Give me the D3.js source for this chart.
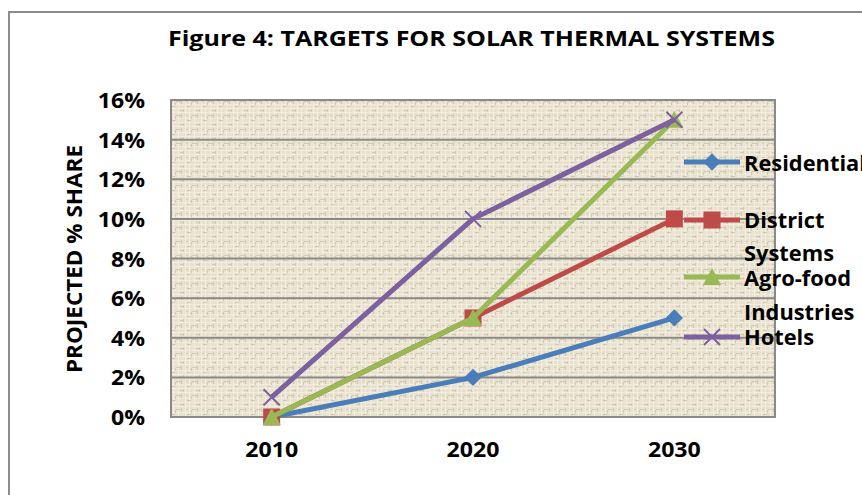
<!DOCTYPE html>
<html><head><meta charset="utf-8">
<script src="https://cdn.jsdelivr.net/npm/d3@7"></script>
<style>
html,body{margin:0;padding:0;background:#fff;}
svg text{font-family:"Open Sans",sans-serif;font-weight:bold;fill:#000;}
</style>
</head><body>
<svg id="chart" width="862" height="495"></svg>
<script>
const years = ["2010", "2020", "2030"];
const residential = [0.00, 0.02, 0.05];
const districtSystems = [0.00, 0.05, 0.10];
const agroFood = [0.00, 0.05, 0.15];
const hotels = [0.01, 0.10, 0.15];
const yTicks = [0, 0.02, 0.04, 0.06, 0.08, 0.10, 0.12, 0.14, 0.16];
const seriesNames = ["Residential", "District Systems", "Agro-food Industries", "Hotels"];
const title = "Figure 4: TARGETS FOR SOLAR THERMAL SYSTEMS";
const yTitle = "PROJECTED % SHARE";

const series = [
  {name: seriesNames[0], values: residential, color: "#4a7ebb", marker: "diamond", legendLines: ["Residential"]},
  {name: seriesNames[1], values: districtSystems, color: "#be4b48", marker: "square", legendLines: ["District", "Systems"]},
  {name: seriesNames[2], values: agroFood, color: "#98b954", marker: "triangle", legendLines: ["Agro-food", "Industries"]},
  {name: seriesNames[3], values: hotels, color: "#7d60a0", marker: "x", legendLines: ["Hotels"]}
];

const svg = d3.select("#chart");
const plot = {left: 171, right: 775, top: 100, bottom: 417};

const x = d3.scaleBand().domain(years).range([plot.left, plot.right]).padding(0);
const y = d3.scaleLinear().domain([0, 0.16]).range([plot.bottom, plot.top]);

function stretch(sel, factor) {
  sel.each(function() {
    const w = this.getComputedTextLength();
    d3.select(this).attr("textLength", w * factor).attr("lengthAdjust", "spacingAndGlyphs");
  });
}

// outer frame
svg.append("path").attr("d", "M9,500 L9,12 L870,12")
  .attr("fill", "none").attr("stroke", "#8c8c8c").attr("stroke-width", 2);

// texture pattern
const defs = svg.append("defs");
const pat = defs.append("pattern").attr("id", "tex").attr("patternUnits", "userSpaceOnUse")
  .attr("width", 16).attr("height", 14);
pat.append("rect").attr("width", 16).attr("height", 14).attr("fill", "#e8e1cd");
const light = [[0,0,16,1],[2,0,1,14],[9,0,1,14],[0,6,16,1],[13,0,1,14],[0,10,16,1]];
light.forEach(r => pat.append("rect").attr("x", r[0]).attr("y", r[1]).attr("width", r[2]).attr("height", r[3]).attr("fill", "#f2ede0"));
const dark = [[5,2,1,4],[0,3,6,1],[11,8,4,1],[7,11,1,3],[4,12,3,1],[15,4,1,3],[10,3,2,1]];
dark.forEach(r => pat.append("rect").attr("x", r[0]).attr("y", r[1]).attr("width", r[2]).attr("height", r[3]).attr("fill", "#d2c9b2"));

svg.append("rect").attr("x", plot.left).attr("y", plot.top)
  .attr("width", plot.right - plot.left).attr("height", plot.bottom - plot.top)
  .attr("fill", "url(#tex)");

// grid lines
svg.append("g").selectAll("line").data(yTicks).join("line")
  .attr("x1", plot.left).attr("x2", plot.right)
  .attr("y1", d => y(d)).attr("y2", d => y(d))
  .attr("stroke", "#8a8a8a").attr("stroke-width", 2);

svg.append("rect").attr("x", plot.left).attr("y", plot.top)
  .attr("width", plot.right - plot.left).attr("height", plot.bottom - plot.top)
  .attr("fill", "none").attr("stroke", "#8a8a8a").attr("stroke-width", 2);

// y axis
const yAxis = svg.append("g").attr("transform", `translate(${plot.left},0)`)
  .call(d3.axisLeft(y).tickValues(yTicks).tickFormat(d3.format(".0%")).tickSize(0).tickPadding(26));
yAxis.select(".domain").remove();
yAxis.selectAll("text").attr("font-size", 21).attr("dy", "0.36em")
  .style("font-family", "'Open Sans',sans-serif").style("font-weight", "bold").attr("fill", "#000");
stretch(yAxis.selectAll("text"), 1.1);

// x axis
const xAxis = svg.append("g").attr("transform", `translate(0,${plot.bottom})`)
  .call(d3.axisBottom(x).tickSize(0).tickPadding(25));
xAxis.select(".domain").remove();
xAxis.selectAll("text").attr("font-size", 21).attr("dy", "0.71em")
  .style("font-family", "'Open Sans',sans-serif").style("font-weight", "bold").attr("fill", "#000");
stretch(xAxis.selectAll("text"), 1.1);

// title
const t = svg.append("text").attr("x", 168).attr("y", 46).attr("font-size", 22).text(title);
t.attr("textLength", 607).attr("lengthAdjust", "spacingAndGlyphs");

// y title
const yt = svg.append("text").attr("transform", "translate(82,259) rotate(-90)")
  .attr("text-anchor", "middle").attr("font-size", 21).text(yTitle);
yt.attr("textLength", 228).attr("lengthAdjust", "spacingAndGlyphs");

// markers
function drawMarker(g, type, color, cx, cy) {
  if (type === "diamond") {
    g.append("path").attr("d", d3.symbol(d3.symbolSquare, 150)())
      .attr("transform", `translate(${cx},${cy}) rotate(45)`).attr("fill", color);
  } else if (type === "square") {
    g.append("rect").attr("x", cx - 8.5).attr("y", cy - 8.5).attr("width", 17).attr("height", 17).attr("fill", color);
  } else if (type === "triangle") {
    g.append("path").attr("d", `M${cx},${cy - 9} L${cx + 9},${cy + 8} L${cx - 9},${cy + 8} Z`).attr("fill", color);
  } else if (type === "x") {
    g.append("path").attr("d", `M${cx - 8},${cy - 8} L${cx + 8},${cy + 8} M${cx - 8},${cy + 8} L${cx + 8},${cy - 8}`)
      .attr("stroke", color).attr("stroke-width", 2).attr("fill", "none");
  }
}

const line = d3.line().x((d, i) => x(years[i]) + x.bandwidth() / 2).y(d => y(d));
series.forEach(s => {
  const g = svg.append("g");
  g.append("path").datum(s.values).attr("d", line)
    .attr("fill", "none").attr("stroke", s.color).attr("stroke-width", 5).attr("stroke-linejoin", "round");
  s.values.forEach((v, i) => drawMarker(g, s.marker, s.color, x(years[i]) + x.bandwidth() / 2, y(v)));
});

// legend
const legendY = [162, 220, 277, 337];
const legendTextY = [[163], [220, 253], [278], [337]];
legendTextY[2].push(312);
series.forEach((s, i) => {
  const g = svg.append("g");
  g.append("line").attr("x1", 684).attr("x2", 740).attr("y1", legendY[i]).attr("y2", legendY[i])
    .attr("stroke", s.color).attr("stroke-width", 5);
  drawMarker(g, s.marker, s.color, 712, legendY[i]);
  s.legendLines.forEach((txt, j) => {
    const tx = g.append("text").attr("x", 744).attr("y", legendTextY[i][j]).attr("dy", "0.36em")
      .attr("font-size", 21).text(txt);
    stretch(tx, 1.04);
  });
});
</script>
</body></html>
